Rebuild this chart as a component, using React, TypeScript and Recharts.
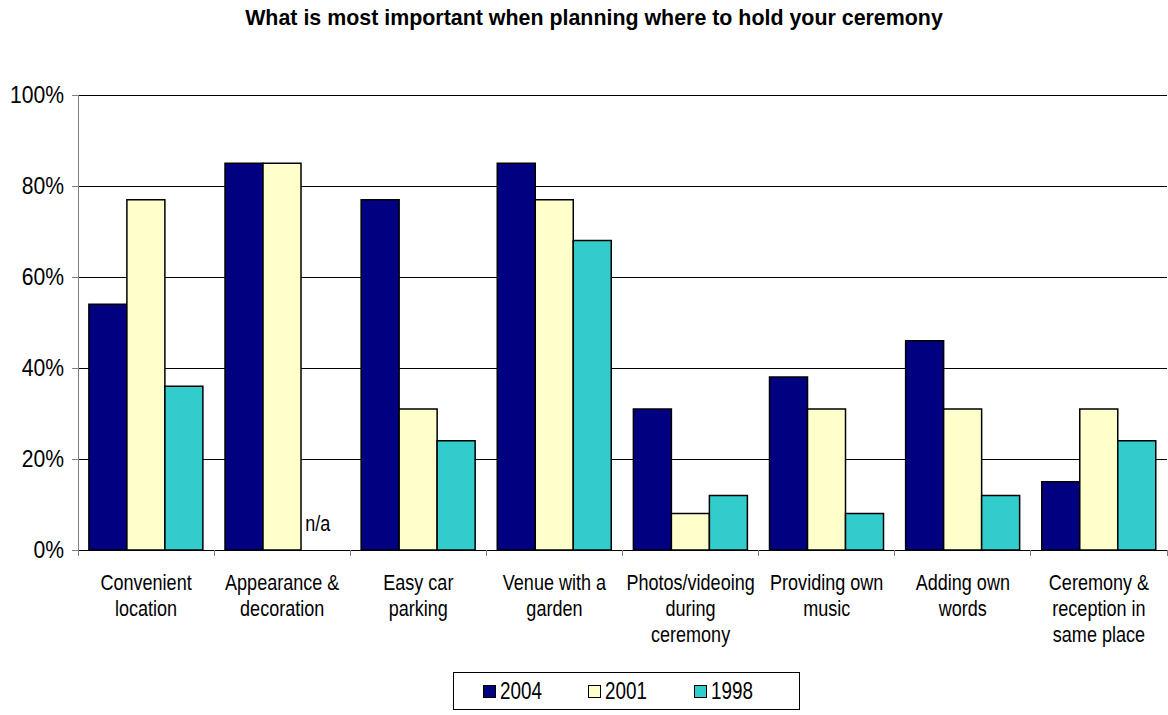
import { Bar, BarChart, CartesianGrid, Legend, XAxis, YAxis } from "recharts";

const categories = [
  "Convenient\nlocation",
  "Appearance &\ndecoration",
  "Easy car\nparking",
  "Venue with a\ngarden",
  "Photos/videoing\nduring\nceremony",
  "Providing own\nmusic",
  "Adding own\nwords",
  "Ceremony &\nreception in\nsame place",
];
const y2004 = [54, 85, 77, 85, 31, 38, 46, 15];
const y2001 = [77, 85, 31, 77, 8, 31, 31, 31];
const y1998: (number | null)[] = [36, null, 24, 68, 12, 8, 12, 24];
const yTicks = [0, 20, 40, 60, 80, 100];

const seriesInfo = [
  { key: "s2004", name: "2004", color: "#000080" },
  { key: "s2001", name: "2001", color: "#FFFFCC" },
  { key: "s1998", name: "1998", color: "#33CCCC" },
];

const data = categories.map((c, i) => ({
  cat: c,
  s2004: y2004[i],
  s2001: y2001[i],
  s1998: y1998[i],
}));

const FONT = "'Liberation Sans', Arial, sans-serif";
const GAP = 0.08; // barCategoryGap as a fraction

function CatTick(props: any) {
  const { x, y, payload, index } = props;
  const lines = String(payload.value).split("\n");
  const off = payload.offset ?? 0;
  const band = off * 2;
  const barW = (band * (1 - 2 * GAP)) / 3;
  const naX = x - off + band * GAP + barW * 2 + 4;
  return (
    <g>
      <line x1={x - off} x2={x - off} y1={y} y2={y + 6} stroke="#808080" shapeRendering="crispEdges" />
      {index === categories.length - 1 && (
        <line x1={x + off} x2={x + off} y1={y} y2={y + 6} stroke="#808080" shapeRendering="crispEdges" />
      )}
      <g transform={`translate(${x} ${y + 40}) scale(0.82 1)`}>
        <text x={0} y={0} textAnchor="middle" fontFamily={FONT} fontSize={22} fill="#000">
          {lines.map((l, i) => (
            <tspan key={i} x={0} dy={i === 0 ? 0 : 26}>
              {l}
            </tspan>
          ))}
        </text>
      </g>
      {y1998[index] == null && (
        <g transform={`translate(${naX} ${y - 19}) scale(0.82 1)`}>
          <text x={0} y={0} fontFamily={FONT} fontSize={22} fill="#000">
            n/a
          </text>
        </g>
      )}
    </g>
  );
}

function PctTick(props: any) {
  const { x, y, payload } = props;
  return (
    <g transform={`translate(${x} ${y}) scale(0.88 1)`}>
      <text x={0} y={0} textAnchor="end" dominantBaseline="central" fontFamily={FONT} fontSize={24} fill="#000">
        {`${payload.value}%`}
      </text>
    </g>
  );
}

function GridLine(props: any) {
  const { x1, x2, y1, y2 } = props;
  return <line x1={x1} x2={x2} y1={y1} y2={y2} stroke="#000" strokeWidth={1} shapeRendering="crispEdges" />;
}

function LegendBox() {
  return (
    <div
      style={{
        boxSizing: "border-box",
        width: 347,
        height: 38,
        border: "1px solid #000",
        background: "#fff",
        display: "flex",
        alignItems: "center",
        paddingLeft: 29,
        fontFamily: FONT,
        fontSize: 23,
      }}
    >
      {seriesInfo.map((s) => (
        <div key={s.key} style={{ display: "flex", alignItems: "center", width: 115 }}>
          <span
            style={{
              display: "inline-block",
              boxSizing: "border-box",
              width: 13,
              height: 13,
              background: s.color,
              border: "1px solid #000",
              marginRight: 4,
            }}
          />
          <span style={{ display: "inline-block", transform: "scaleX(0.82)", transformOrigin: "left center" }}>
            {s.name}
          </span>
        </div>
      ))}
    </div>
  );
}

export default function App() {
  return (
    <div style={{ position: "absolute", left: 0, top: 0, width: 1168, height: 715, background: "#fff" }}>
      <div
        style={{
          position: "absolute",
          left: 594,
          top: 6,
          transform: "translateX(-50%)",
          whiteSpace: "nowrap",
          fontFamily: FONT,
          fontWeight: "bold",
          fontSize: 21.4,
          lineHeight: "24px",
        }}
      >
        What is most important when planning where to hold your ceremony
      </div>
      <BarChart
        width={1168}
        height={715}
        data={data}
        margin={{ top: 95, right: 1, left: 0, bottom: 5 }}
        barCategoryGap={`${GAP * 100}%`}
        barGap={0}
      >
        <CartesianGrid vertical={false} horizontal={(p: any) => <GridLine key={p.key} {...p} />} />
        <XAxis
          dataKey="cat"
          interval={0}
          height={122}
          tickSize={0}
          tickMargin={0}
          tickLine={false}
          axisLine={{ stroke: "#000", shapeRendering: "crispEdges" }}
          tick={<CatTick />}
        />
        <YAxis
          domain={[0, 100]}
          ticks={yTicks}
          width={78}
          tickSize={6}
          tickMargin={8}
          axisLine={{ stroke: "#808080", shapeRendering: "crispEdges" }}
          tickLine={{ stroke: "#808080", shapeRendering: "crispEdges" }}
          tick={<PctTick />}
        />
        <Legend
          verticalAlign="bottom"
          wrapperStyle={{ top: 672, left: 453, width: 347, height: 38, bottom: "auto" }}
          content={() => <LegendBox />}
        />
        {seriesInfo.map((s) => (
          <Bar
            key={s.key}
            dataKey={s.key}
            name={s.name}
            fill={s.color}
            stroke="#000"
            strokeWidth={1.5}
            isAnimationActive={false}
          />
        ))}
      </BarChart>
    </div>
  );
}
